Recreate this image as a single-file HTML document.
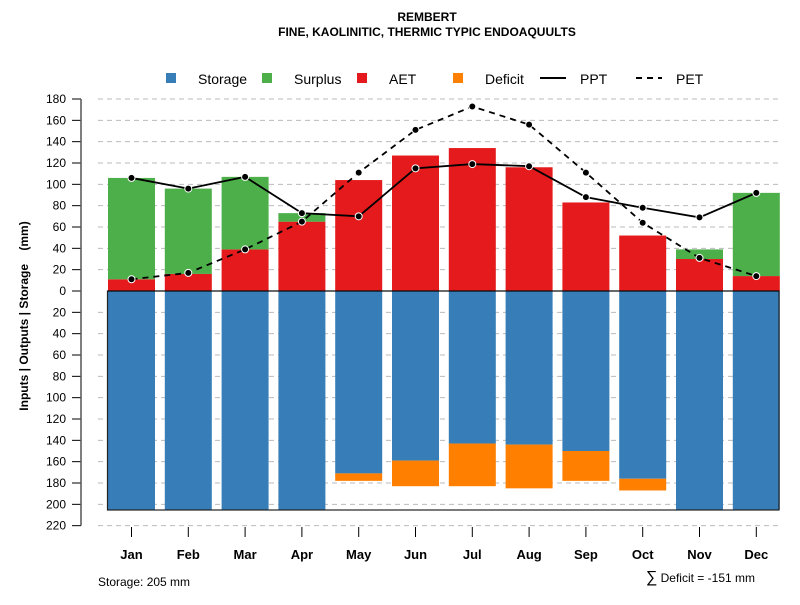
<!DOCTYPE html>
<html><head><meta charset="utf-8"><style>
body{margin:0;background:#fff}
svg text{font-family:"Liberation Sans",sans-serif}
</style></head><body>
<svg id="c" width="800" height="600" xmlns="http://www.w3.org/2000/svg">
<text x="427" y="21" text-anchor="middle" font-size="12" font-weight="bold">REMBERT</text>
<text x="427" y="36" text-anchor="middle" font-size="12" font-weight="bold">FINE, KAOLINITIC, THERMIC TYPIC ENDOAQUULTS</text>
<g id="legend" font-size="14">
<rect x="166" y="73" width="10" height="10" fill="#377eb8"/>
<text x="198" y="84">Storage</text>
<rect x="262" y="73" width="10" height="10" fill="#4daf4a"/>
<text x="294" y="84">Surplus</text>
<rect x="357" y="73" width="10" height="10" fill="#e41a1c"/>
<text x="389" y="84">AET</text>
<rect x="453" y="73" width="10" height="10" fill="#ff7f00"/>
<text x="485" y="84">Deficit</text>
<line x1="540" y1="78" x2="566" y2="78" stroke="#000" stroke-width="2"/>
<text x="580" y="84">PPT</text>
<line x1="636" y1="78" x2="662" y2="78" stroke="#000" stroke-width="2" stroke-dasharray="6,5"/>
<text x="676" y="84">PET</text>
</g>
<g id="grid"></g>
<g id="bars"></g>
<rect x="107.5" y="291" width="671.5" height="219" fill="none" stroke="#222" stroke-width="1.2"/>
<g id="lines"></g>
<g id="axes"></g>
<text transform="translate(28,316) rotate(-90)" text-anchor="middle" font-size="12" font-weight="bold">Inputs | Outputs | Storage &#160;&#160;&#160;(mm)</text>
<text x="98" y="586" font-size="12">Storage: 205 mm</text>
<text x="755" y="582" text-anchor="end" font-size="12"><tspan font-size="16">∑</tspan> Deficit = -151 mm</text>
</svg>
<script>
const months=["Jan","Feb","Mar","Apr","May","Jun","Jul","Aug","Sep","Oct","Nov","Dec"];
const aet=[11,16,39,65,104,127,134,116,83,52,30,14];
const surplus=[95,80,68,8,0,0,0,0,0,0,9,78];
const ppt=[106,96,107,73,70,115,119,117,88,78,69,92];
const pet=[11,17,39,65,111,151,173,156,111,64,31,14];
const storage=[205,205,205,205,171,159,143,144,150,176,205,205];
const deficit=[0,0,0,0,7,24,40,41,28,11,0,0];
const yTicks=[180,160,140,120,100,80,60,40,20,0,20,40,60,80,100,120,140,160,180,200,220];
const NS="http://www.w3.org/2000/svg";
const y0=291,k=192/180;
const y=v=>y0-v*k;
const cx=i=>131.5+i*56.8;
const bw=47;
function mk(t,a,p){const e=document.createElementNS(NS,t);for(const q in a)e.setAttribute(q,a[q]);p.appendChild(e);return e;}
const grid=document.getElementById('grid'),bars=document.getElementById('bars'),lines=document.getElementById('lines'),axes=document.getElementById('axes');
yTicks.forEach((t,i)=>{const v=i<=9?t:-t;const yy=y(v);
 if(v!==0){const g=mk('line',{x1:98,x2:780,y1:yy,y2:yy,stroke:'#bbb','stroke-dasharray':'5,4'},grid);
 
 }
 const tk=mk('line',{x1:72,x2:81,y1:yy,y2:yy,stroke:'#000'},axes);
 
 
 const tl=mk('text',{x:66,y:yy+4,'text-anchor':'end','font-size':12},axes);tl.textContent=t;
 
 
});
const ax=mk('line',{x1:81,x2:81,y1:y(180),y2:y(-220),stroke:'#555','stroke-width':1.5},axes);


months.forEach((m,i)=>{const x=cx(i)-bw/2;
 const s=mk('rect',{x:x,y:y0,width:bw,height:storage[i]*k,fill:'#377eb8'},bars);
 
 
 if(deficit[i]>0){const d=mk('rect',{x:x,y:y(-storage[i]),width:bw,height:deficit[i]*k,fill:'#ff7f00'},bars);
 
 }
 const a=mk('rect',{x:x,y:y(aet[i]),width:bw,height:aet[i]*k,fill:'#e41a1c'},bars);
 
 
 if(surplus[i]>0){const s2=mk('rect',{x:x,y:y(aet[i]+surplus[i]),width:bw,height:surplus[i]*k,fill:'#4daf4a'},bars);
 
 }
 const t=mk('line',{x1:cx(i),x2:cx(i),y1:527,y2:537,stroke:'#000'},axes);
 
 
 const l=mk('text',{x:cx(i),y:559,'text-anchor':'middle','font-size':13,'font-weight':'bold'},axes);l.textContent=m;
 
 
});
const z=mk('line',{x1:107.5,x2:779,y1:y0,y2:y0,stroke:'#000'},lines);


[[pet,'6,5','pet'],[ppt,null,'ppt']].forEach(([arr,da,n])=>{
 const p=mk('polyline',{points:arr.map((v,i)=>cx(i)+','+y(v)).join(' '),fill:'none',stroke:'#000','stroke-width':1.8},lines);
 if(da)p.setAttribute('stroke-dasharray',da);
 
 
 arr.forEach((v,i)=>{const c=mk('circle',{cx:cx(i),cy:y(v),r:3.5,fill:'#000',stroke:'#fff','stroke-width':1},lines);
 
 });
});
</script>
</body></html>
